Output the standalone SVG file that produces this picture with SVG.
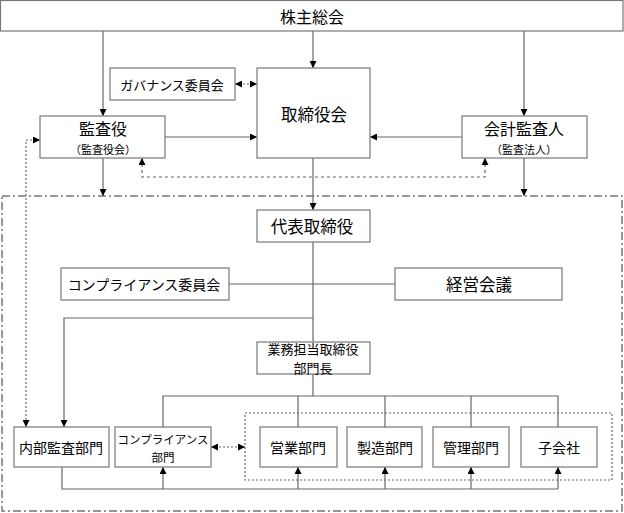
<svg xmlns="http://www.w3.org/2000/svg" width="624" height="513" viewBox="0 0 624 513">
<style>
.box{fill:#fff;stroke:#777;stroke-width:1.2}
.t{font-family:"Noto Sans CJK JP","Noto Sans",sans-serif;fill:#000;text-anchor:middle;dominant-baseline:central}
.ln{fill:none;stroke:#666;stroke-width:1.2}
.dot{fill:none;stroke:#666;stroke-width:1.2;stroke-dasharray:2,2}
.dsh{fill:none;stroke:#666;stroke-width:1.2;stroke-dasharray:3,3}
.dd{fill:none;stroke:#777;stroke-width:1.5;stroke-dasharray:8,3,2,3}
</style>
<defs>
<marker id="ah" viewBox="0 0 10 10" refX="10" refY="5" markerWidth="7" markerHeight="7" markerUnits="userSpaceOnUse" orient="auto-start-reverse">
<path d="M0,0 L10,5 L0,10 z" fill="#000"/>
</marker>
</defs>

<rect class="dd" x="2" y="196" width="620" height="315"/>
<rect class="dot" x="245" y="413" width="367" height="67" fill="none"/>

<g id="connectors">
<line class="ln" x1="103" y1="31" x2="103" y2="116" marker-end="url(#ah)"/>
<line class="ln" x1="313" y1="31" x2="313" y2="68" marker-end="url(#ah)"/>
<line class="ln" x1="524" y1="31" x2="524" y2="116" marker-end="url(#ah)"/>
<line class="dot" x1="235" y1="84" x2="257" y2="84" marker-start="url(#ah)" marker-end="url(#ah)"/>
<line class="ln" x1="165" y1="137" x2="257" y2="137" marker-end="url(#ah)"/>
<line class="ln" x1="462" y1="137" x2="370" y2="137" marker-end="url(#ah)"/>
<polyline class="dsh" points="142,158 142,177 485,177 485,158" marker-start="url(#ah)" marker-end="url(#ah)"/>
<polyline class="dot" points="40,140 26,140 26,427" marker-start="url(#ah)" marker-end="url(#ah)"/>
<line class="ln" x1="103" y1="158" x2="103" y2="196" marker-end="url(#ah)"/>
<line class="ln" x1="524" y1="158" x2="524" y2="196" marker-end="url(#ah)"/>
<line class="ln" x1="313" y1="158" x2="313" y2="210" marker-end="url(#ah)"/>
<line class="ln" x1="313" y1="242" x2="313" y2="342"/>
<line class="ln" x1="229" y1="284" x2="395" y2="284"/>
<polyline class="ln" points="313,318 64,318 64,427" marker-end="url(#ah)"/>
<line class="ln" x1="313" y1="374" x2="313" y2="396"/>
<polyline class="ln" points="163,427 163,396 558,396 558,427"/>
<line class="ln" x1="298" y1="396" x2="298" y2="427"/>
<line class="ln" x1="385" y1="396" x2="385" y2="427"/>
<line class="ln" x1="471" y1="396" x2="471" y2="427"/>
<line class="dot" x1="211" y1="447" x2="245" y2="447" marker-start="url(#ah)" marker-end="url(#ah)"/>
<polyline class="ln" points="62,467 62,489 558,489"/>
<line class="ln" x1="163" y1="489" x2="163" y2="467" marker-end="url(#ah)"/>
<line class="ln" x1="298" y1="489" x2="298" y2="467" marker-end="url(#ah)"/>
<line class="ln" x1="385" y1="489" x2="385" y2="467" marker-end="url(#ah)"/>
<line class="ln" x1="471" y1="489" x2="471" y2="467" marker-end="url(#ah)"/>
<line class="ln" x1="558" y1="489" x2="558" y2="467" marker-end="url(#ah)"/>
</g>

<g id="kabunushi"><rect class="box" x="0.5" y="0.5" width="622.5" height="30.5"/><text class="t" x="312" y="16" font-size="16">株主総会</text></g>
<g id="governance"><rect class="box" x="110" y="68" width="125" height="32"/><text class="t" x="172" y="84" font-size="13">ガバナンス委員会</text></g>
<g id="torishimariyakukai"><rect class="box" x="257" y="68" width="113" height="90"/><text class="t" x="314" y="114" font-size="16.5">取締役会</text></g>
<g id="kansayaku"><rect class="box" x="40" y="116" width="125" height="42"/><text class="t" x="103" y="128" font-size="16">監査役</text><text class="t" x="103" y="148.5" font-size="11">（監査役会）</text></g>
<g id="kaikeikansanin"><rect class="box" x="462" y="116" width="125" height="42"/><text class="t" x="524" y="128" font-size="16">会計監査人</text><text class="t" x="524" y="148.5" font-size="11">（監査法人）</text></g>
<g id="daihyo"><rect class="box" x="257" y="210" width="113" height="32"/><text class="t" x="312" y="226" font-size="16.5">代表取締役</text></g>
<g id="compliance-iinkai"><rect class="box" x="61" y="268" width="168" height="32"/><text class="t" x="144" y="284" font-size="14">コンプライアンス委員会</text></g>
<g id="keiei"><rect class="box" x="395" y="268" width="167" height="32"/><text class="t" x="479" y="284" font-size="16.5">経営会議</text></g>
<g id="gyomu"><rect class="box" x="257" y="342" width="113" height="32"/><text class="t" x="313" y="348.5" font-size="13">業務担当取締役</text><text class="t" x="313" y="367.5" font-size="13">部門長</text></g>
<g id="naibu"><rect class="box" x="14" y="427" width="95" height="40"/><text class="t" x="61" y="447" font-size="14">内部監査部門</text></g>
<g id="compliance-bumon"><rect class="box" x="115" y="427" width="96" height="40"/><text class="t" x="163" y="439" font-size="11.5">コンプライアンス</text><text class="t" x="163" y="456.5" font-size="11.5">部門</text></g>
<g id="eigyo"><rect class="box" x="260" y="427" width="77" height="40"/><text class="t" x="298" y="447" font-size="14">営業部門</text></g>
<g id="seizo"><rect class="box" x="347" y="427" width="75" height="40"/><text class="t" x="385" y="447" font-size="14">製造部門</text></g>
<g id="kanri"><rect class="box" x="433" y="427" width="76" height="40"/><text class="t" x="471" y="447" font-size="14">管理部門</text></g>
<g id="kogaisha"><rect class="box" x="521" y="427" width="76" height="40"/><text class="t" x="559" y="447" font-size="14">子会社</text></g>
</svg>
